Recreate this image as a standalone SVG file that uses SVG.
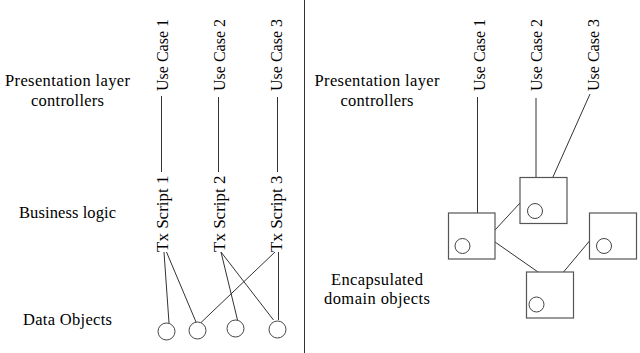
<svg xmlns="http://www.w3.org/2000/svg" width="640" height="353" viewBox="0 0 640 353">
<style>
.lbl{font-family:"Liberation Serif","Times New Roman",serif;font-size:16.5px;fill:#000;text-anchor:middle}
.rot{font-family:"Liberation Serif","Times New Roman",serif;font-size:16px;fill:#000}
.tx{font-size:17px}
.ln{stroke:#333;stroke-width:1;fill:none}
.obj{stroke:#555;stroke-width:1.2;fill:#fff}
.dot{stroke:#444;stroke-width:1;fill:#fff}
</style>
<rect width="640" height="353" fill="#fff"/>
<line x1="304.5" y1="0" x2="304.5" y2="353" stroke="#333" stroke-width="1"/>

<g id="labels-left">
<text class="lbl" x="67.5" y="86" textLength="125" lengthAdjust="spacing">Presentation layer</text>
<text class="lbl" x="67.5" y="106" textLength="73" lengthAdjust="spacing">controllers</text>
<text class="lbl" x="67.5" y="218" textLength="97" lengthAdjust="spacing">Business logic</text>
<text class="lbl" x="67.5" y="325" textLength="89" lengthAdjust="spacing">Data Objects</text>
</g>
<g id="labels-right">
<text class="lbl" x="377" y="86" textLength="125" lengthAdjust="spacing">Presentation layer</text>
<text class="lbl" x="377" y="106" textLength="73" lengthAdjust="spacing">controllers</text>
<text class="lbl" x="377" y="285" textLength="92" lengthAdjust="spacing">Encapsulated</text>
<text class="lbl" x="377" y="304" textLength="106" lengthAdjust="spacing">domain objects</text>
</g>

<g id="connectors">
<line class="ln" x1="161.5" y1="96" x2="161.5" y2="172"/>
<line class="ln" x1="218.5" y1="97" x2="218.5" y2="172"/>
<line class="ln" x1="277.5" y1="97" x2="277.5" y2="172"/>
<line class="ln" x1="164" y1="252" x2="169" y2="323"/>
<line class="ln" x1="166.5" y1="252" x2="196" y2="322"/>
<line class="ln" x1="221" y1="252" x2="237.5" y2="320"/>
<line class="ln" x1="221" y1="252" x2="273.5" y2="320"/>
<line class="ln" x1="275" y1="252" x2="200.5" y2="323"/>
<line class="ln" x1="278.5" y1="252" x2="278.5" y2="320"/>
<line class="ln" x1="477.5" y1="97" x2="477.5" y2="213"/>
<line class="ln" x1="536" y1="98" x2="536" y2="177"/>
<line class="ln" x1="590" y1="94" x2="552.5" y2="178"/>
<line class="ln" x1="495" y1="230" x2="520" y2="203"/>
<line class="ln" x1="495" y1="242" x2="538" y2="272"/>
<line class="ln" x1="589.5" y1="241" x2="563.5" y2="272"/>
</g>

<g id="uc1-left"><text class="rot" transform="translate(168,91) rotate(-90)">Use Case 1</text></g>
<g id="uc2-left"><text class="rot" transform="translate(224.5,91) rotate(-90)">Use Case 2</text></g>
<g id="uc3-left"><text class="rot" transform="translate(281.5,91) rotate(-90)">Use Case 3</text></g>
<g id="tx1"><text class="rot tx" transform="translate(168,252) rotate(-90)">Tx Script 1</text></g>
<g id="tx2"><text class="rot tx" transform="translate(224.5,252) rotate(-90)">Tx Script 2</text></g>
<g id="tx3"><text class="rot tx" transform="translate(281.5,252) rotate(-90)">Tx Script 3</text></g>

<g id="do1"><circle class="dot" cx="166.5" cy="331.5" r="8.5"/></g>
<g id="do2"><circle class="dot" cx="197.5" cy="330.5" r="8.5"/></g>
<g id="do3"><circle class="dot" cx="235.5" cy="328.5" r="8.5"/></g>
<g id="do4"><circle class="dot" cx="277.5" cy="329.5" r="8.5"/></g>

<g id="uc1-right"><text class="rot" transform="translate(484.5,91) rotate(-90)">Use Case 1</text></g>
<g id="uc2-right"><text class="rot" transform="translate(541.5,91) rotate(-90)">Use Case 2</text></g>
<g id="uc3-right"><text class="rot" transform="translate(598.5,91) rotate(-90)">Use Case 3</text></g>

<g id="domA"><rect class="obj" x="448.5" y="213" width="46.5" height="46"/><circle class="dot" cx="462.5" cy="246" r="7.5"/></g>
<g id="domB"><rect class="obj" x="520" y="177.5" width="47" height="46"/><circle class="dot" cx="535" cy="211" r="7.5"/></g>
<g id="domC"><rect class="obj" x="589.5" y="213" width="47" height="46"/><circle class="dot" cx="604" cy="246" r="7.5"/></g>
<g id="domD"><rect class="obj" x="526.5" y="272" width="47" height="46"/><circle class="dot" cx="536.5" cy="304.5" r="7.5"/></g>
</svg>
